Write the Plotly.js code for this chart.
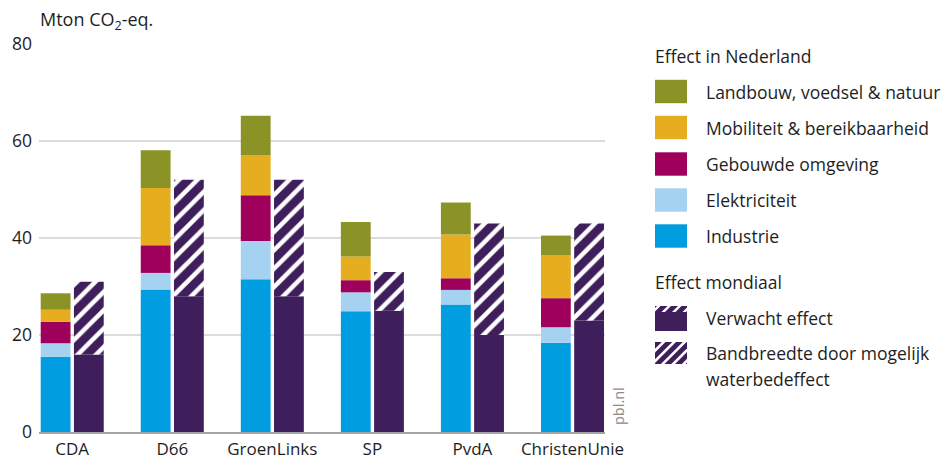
<!DOCTYPE html>
<html>
<head>
<meta charset="utf-8">
<script src="https://cdn.plot.ly/plotly-3.0.1.min.js"></script>
<style>
  html, body { margin: 0; padding: 0; background: #fff; }
  #chart { width: 948px; height: 460px; }
</style>
</head>
<body>
<div id="chart"></div>
<script>
// ---- Data (Mton CO2-eq.) ----
const parties = ['CDA', 'D66', 'GroenLinks', 'SP', 'PvdA', 'ChristenUnie'];
const industrie     = [15.5, 29.4, 31.5, 24.9, 26.3, 18.4];
const elektriciteit = [2.8, 3.4, 7.9, 3.9, 3.0, 3.2];
const gebouwde      = [4.4, 5.7, 9.4, 2.5, 2.4, 6.0];
const mobiliteit    = [2.5, 11.8, 8.3, 4.9, 9.0, 8.9];
const landbouw      = [3.4, 7.8, 8.1, 7.1, 6.6, 4.0];
const mondiaalLaag  = [16, 28, 28, 25, 20, 23];
const mondiaalHoog  = [31, 52, 52, 33, 43, 43];
const yTicks = [0, 20, 40, 60, 80];

const sectorNames = ['Industrie', 'Elektriciteit', 'Gebouwde omgeving', 'Mobiliteit & bereikbaarheid', 'Landbouw, voedsel & natuur'];
const sectorSeries = [industrie, elektriciteit, gebouwde, mobiliteit, landbouw];
const sectorColors = ['#009ee0', '#a6d2f2', '#9e005c', '#e6ad1f', '#8c9326'];
const darkPurple = '#3e1e5b';

// ---- Geometry ----
const W = 948, H = 460, ML = 39, MR = 343, MT = 44, MB = 28;
const PW = W - ML - MR, PH = H - MT - MB;
const px = x => (x - ML) / PW;
const py = y => (H - MB - y) / PH;

const idx = parties.map((_, i) => i);
const offNL = -0.166, offMon = 0.166, barW = 0.298;

const traces = [];
let base = parties.map(() => 0);
sectorSeries.forEach((vals, s) => {
  traces.push({
    type: 'bar',
    name: sectorNames[s],
    x: idx.map(i => i + offNL),
    y: vals,
    base: base.slice(),
    width: barW,
    marker: { color: sectorColors[s], line: { width: 0 } },
    hoverinfo: 'skip'
  });
  base = base.map((b, i) => b + vals[i]);
});
traces.push({
  type: 'bar',
  name: 'Verwacht effect',
  x: idx.map(i => i + offMon),
  y: mondiaalLaag,
  base: parties.map(() => 0),
  width: barW,
  marker: { color: darkPurple, line: { width: 0 } },
  hoverinfo: 'skip'
});
traces.push({
  type: 'bar',
  name: 'Bandbreedte door mogelijk waterbedeffect',
  x: idx.map(i => i + offMon),
  y: mondiaalHoog.map((h, i) => h - mondiaalLaag[i]),
  base: mondiaalLaag,
  width: barW,
  marker: {
    color: darkPurple,
    line: { width: 0 },
    pattern: { shape: '/', bgcolor: darkPurple, fgcolor: '#ffffff', fgopacity: 1, size: 13, solidity: 0.35 }
  },
  hoverinfo: 'skip'
});

// ---- Legend drawn with shapes/annotations ----
const txtColor = '#1e1e1e';
const fontFam = 'Open Sans, sans-serif';
const FS = 17.5;
const shapes = [];
const annotations = [];

function rectShape(x0, y0, x1, y1, color) {
  shapes.push({ type: 'rect', xref: 'paper', yref: 'paper',
    x0: px(x0), x1: px(x1), y0: py(y1), y1: py(y0),
    fillcolor: color, line: { width: 0 }, layer: 'above' });
}
function clipX(poly, xmin, xmax) {
  function clip(pts, inside, inter) {
    const out = [];
    for (let i = 0; i < pts.length; i++) {
      const a = pts[i], b = pts[(i + 1) % pts.length];
      const ia = inside(a), ib = inside(b);
      if (ia && ib) out.push(b);
      else if (ia && !ib) out.push(inter(a, b));
      else if (!ia && ib) { out.push(inter(a, b)); out.push(b); }
    }
    return out;
  }
  const interAt = xv => (a, b) => { const t = (xv - a[0]) / (b[0] - a[0]); return [xv, a[1] + t * (b[1] - a[1])]; };
  let p = clip(poly, q => q[0] >= xmin, interAt(xmin));
  if (p.length) p = clip(p, q => q[0] <= xmax, interAt(xmax));
  return p;
}
function polyShape(pts, color) {
  if (pts.length < 3) return;
  const d = pts.map((q, i) => (i ? 'L' : 'M') + px(q[0]).toFixed(5) + ',' + py(q[1]).toFixed(5)).join(' ') + ' Z';
  shapes.push({ type: 'path', xref: 'paper', yref: 'paper', path: d,
    fillcolor: color, line: { width: 0 }, layer: 'above' });
}
// stripes at 45 degrees between yTop and yBot, clipped to [x0,x1]
function stripes(x0, x1, yTop, yBot, start, period, w, color) {
  const h = yBot - yTop;
  for (let xs = start; xs < x1; xs += period) {
    const poly = [[xs, yBot], [xs + w, yBot], [xs + w + h, yTop], [xs + h, yTop]];
    polyShape(clipX(poly, x0, x1), color);
  }
}
function label(text, x, y, size, color, extra) {
  annotations.push(Object.assign({ xref: 'paper', yref: 'paper', x: px(x), y: py(y),
    xanchor: 'left', yanchor: 'middle', showarrow: false, text: text,
    font: { family: fontFam, size: size, color: color } }, extra || {}));
}

const SX0 = 655, SX1 = 687, TX = 704;
label('Effect in Nederland', 653, 56, FS, txtColor);
const legOrder = [4, 3, 2, 1, 0];
const legY = [91.5, 127.5, 164, 200, 236];
legOrder.forEach((s, k) => {
  rectShape(SX0, legY[k] - 11.7, SX1, legY[k] + 11.7, sectorColors[s]);
  label(sectorNames[s], TX, legY[k], FS, txtColor);
});
label('Effect mondiaal', 653, 282, FS, txtColor);
// Verwacht effect swatch
rectShape(SX0, 306, SX1, 331, darkPurple);
stripes(SX0, SX1, 306, 312, 651, 10.5, 3.5, '#ffffff');
label('Verwacht effect', TX, 318, FS, txtColor);
// Bandbreedte swatch
stripes(SX0, SX1, 342, 364, 633, 10.5, 6.8, darkPurple);
label('Bandbreedte door mogelijk', TX, 353, FS, txtColor);
label('waterbedeffect', TX, 379, FS, txtColor);

// y-axis title
label('Mton CO<sub>2</sub>-eq.', 38, 20, 18, txtColor);
// source
annotations.push({ xref: 'paper', yref: 'paper', x: px(618), y: py(406),
  xanchor: 'center', yanchor: 'middle', showarrow: false, text: 'pbl.nl',
  textangle: -90, font: { family: fontFam, size: 14.5, color: '#8a8a8a' } });

const layout = {
  width: W, height: H,
  margin: { l: ML, r: MR, t: MT, b: MB, pad: 0 },
  paper_bgcolor: '#ffffff', plot_bgcolor: '#ffffff',
  barmode: 'overlay',
  showlegend: false,
  font: { family: fontFam, size: FS, color: txtColor },
  xaxis: {
    type: 'linear', range: [-0.332, 5.325],
    tickvals: idx, ticktext: parties,
    showgrid: false, zeroline: false,
    showline: true, linecolor: '#a3a3a3', linewidth: 1.5,
    ticks: '', ticklabelstandoff: 1,
    tickfont: { family: fontFam, size: 17, color: txtColor },
    fixedrange: true
  },
  yaxis: {
    range: [0, 80], tickvals: yTicks, ticktext: yTicks.map(String),
    showgrid: true, gridcolor: '#dcdcdc', gridwidth: 1.3,
    zeroline: false, showline: false, ticks: '', ticklabelstandoff: 6,
    tickfont: { family: fontFam, size: FS, color: txtColor },
    fixedrange: true
  },
  shapes: shapes,
  annotations: annotations
};

Plotly.newPlot('chart', traces, layout, { staticPlot: true, displayModeBar: false });
</script>
</body>
</html>
